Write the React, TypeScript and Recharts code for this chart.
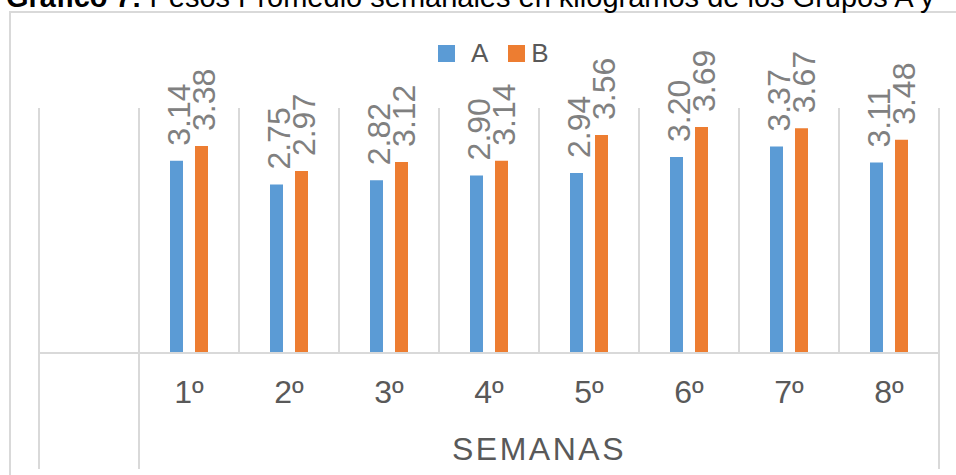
import { BarChart, Bar, XAxis, YAxis, CartesianGrid, Legend } from 'recharts'

const semanas = ['', '1º', '2º', '3º', '4º', '5º', '6º', '7º', '8º']
const grupoA = [null, 3.14, 2.75, 2.82, 2.9, 2.94, 3.2, 3.37, 3.11]
const grupoB = [null, 3.38, 2.97, 3.12, 3.14, 3.56, 3.69, 3.67, 3.48]

const data = semanas.map((s, i) => ({ semana: s, A: grupoA[i], B: grupoB[i] }))

const FONT = '"Liberation Sans", Arial, sans-serif'
const GRID = '#d9d9d9'

const renderLabel = (props: any) => {
	const { x, y, width, value } = props
	if (value === null || value === undefined) return null
	const cx = Number(x) + Number(width) / 2
	return (
		<text
			transform={`translate(${cx + 13}, ${Number(y) - 15}) rotate(-90)`}
			textAnchor="start"
			fontFamily={FONT}
			fontSize={32}
			fill="#808080"
		>
			{Number(value).toFixed(2)}
		</text>
	)
}

const SemanaTick = (props: any) => {
	const { x, y, payload, index, visibleTicksCount } = props
	const half = payload.offset || 50
	return (
		<g>
			{index === 0 && <line x1={x - half} x2={x - half} y1={y} y2={y + 116} stroke={GRID} strokeWidth={2} />}
			{index === 0 && <line x1={x + half} x2={x + half} y1={y} y2={y + 116} stroke={GRID} strokeWidth={2} />}
			{index === visibleTicksCount - 1 && <line x1={x + half} x2={x + half} y1={y} y2={y + 116} stroke={GRID} strokeWidth={2} />}
			<text x={x} y={y + 50} textAnchor="middle" fontFamily={FONT} fontSize={32} fill="#595959">
				{payload.value}
			</text>
		</g>
	)
}

const renderSemanas = (props: any) => {
	const { x, y, width } = props.viewBox
	return (
		<text x={x + (width * 5) / 9} y={y + 107} textAnchor="middle" fontFamily={FONT} fontSize={32} letterSpacing={2.5} fill="#595959">
			SEMANAS
		</text>
	)
}

const renderLegend = (props: any) => {
	const { payload } = props
	const gaps = [16, 6]
	return (
		<div style={{ display: 'flex', alignItems: 'center', fontFamily: FONT, fontSize: 26, color: '#595959' }}>
			{payload.map((e: any, i: number) => (
				<div key={e.value} style={{ display: 'flex', alignItems: 'center', marginRight: 20 }}>
					<span style={{ width: 17, height: 17, background: e.color, marginRight: gaps[i] }} />
					<span>{e.value}</span>
				</div>
			))}
		</div>
	)
}

const App = () => {
	return (
		<div style={{ position: 'absolute', left: 0, top: 0, width: 956, height: 475, overflow: 'hidden', background: '#fff' }}>
			<div style={{ position: 'absolute', left: 9, top: 11, width: 960, height: 480, border: `2px solid ${GRID}` }} />
			<div
				style={{
					position: 'absolute',
					left: 6,
					top: -17,
					fontFamily: FONT,
					fontSize: 29,
					lineHeight: '29px',
					whiteSpace: 'nowrap',
					color: '#000',
				}}
			>
				<b>Gráfico 7:</b> Pesos Promedio semanales en kilogramos de los Grupos A y
			</div>
			<div style={{ position: 'absolute', left: 0, top: 0 }}>
				<BarChart width={956} height={475} data={data} margin={{ top: 108, right: 17, left: 39, bottom: 0 }} barGap={12}>
					<CartesianGrid
						horizontal={false}
						stroke={GRID}
						strokeWidth={2}
						verticalCoordinatesGenerator={({ offset }: any) =>
							semanas.map((_, i) => offset.left + (offset.width * i) / semanas.length).concat(offset.left + offset.width)
						}
					/>
					<XAxis
						dataKey="semana"
						interval={0}
						height={122}
						tickLine={false}
						tickSize={0}
						tickMargin={0}
						axisLine={{ stroke: GRID, strokeWidth: 2 }}
						tick={<SemanaTick />}
						label={{ content: renderSemanas }}
					/>
					<YAxis hide domain={[0, 4]} />
					<Legend
						layout="horizontal"
						verticalAlign="middle"
						align="center"
						content={renderLegend}
						wrapperStyle={{ top: 38, left: 438, width: 200 }}
					/>
					<Bar dataKey="A" fill="#5b9bd5" barSize={13} isAnimationActive={false} label={renderLabel} />
					<Bar dataKey="B" fill="#ed7d31" barSize={13} isAnimationActive={false} label={renderLabel} />
				</BarChart>
			</div>
		</div>
	)
}

export default App
